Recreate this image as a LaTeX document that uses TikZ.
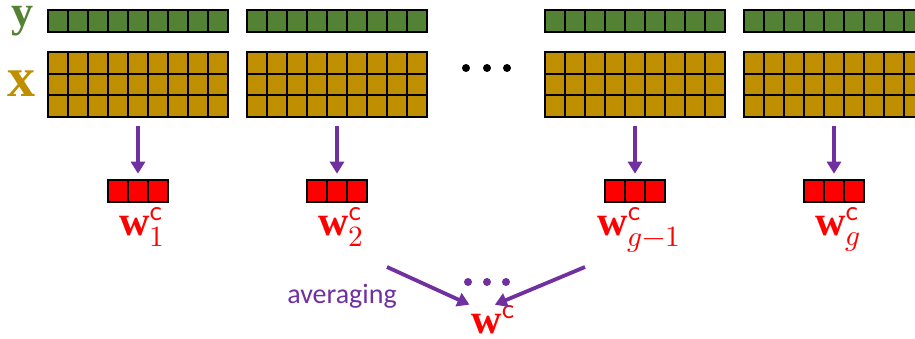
\documentclass[tikz,border=0pt]{standalone}
\usepackage{fontspec}
\usepackage{unicode-math}
\newfontfamily\rowfont{Liberation Serif}
\newfontfamily\notefont{Carlito}
\usetikzlibrary{arrows.meta,positioning}

\definecolor{ygreen}{RGB}{84,130,53}
\definecolor{xgold}{RGB}{191,143,0}
\definecolor{wred}{RGB}{255,0,0}
\definecolor{avgpurple}{RGB}{112,48,160}

\newcommand\wvec{\mbox{\rowfont\bfseries w}}

\tikzset{
	cellline/.style={line width=2.2pt},
	yrow/.style={draw, fill=ygreen, line width=2.6pt, minimum width=180pt, minimum height=22pt, inner sep=0pt},
	xblock/.style={yrow, fill=xgold, minimum height=65pt},
	wbox/.style={yrow, fill=wred, minimum width=60pt},
	wlabel/.style={text=wred, font=\fontsize{42}{46}\selectfont, inner sep=0pt},
	down/.style={avgpurple, line width=3.8pt, -{Triangle[length=12pt,width=14pt]}, shorten <=8pt, shorten >=5pt},
	avg/.style={avgpurple, line width=3.8pt, -{Triangle[length=12pt,width=14pt]}, shorten >=2pt},
}

\begin{document}
\begin{tikzpicture}[x=1pt,y=-1pt]
	\useasboundingbox (0,0) rectangle (915,339);
	\clip (0,0) rectangle (915,339);
	% row names
		\node[inner sep=0pt, text=ygreen, font=\rowfont\bfseries\fontsize{44}{44}\selectfont] (ylab) at (22,21) {y};
		\node[inner sep=0pt, text=xgold, font=\rowfont\bfseries\fontsize{56}{56}\selectfont] (xlab) at (21,84) {x};
	% one group per block of data
	\foreach \g/\cx/\wsub in {1/138/1, 2/337/2, 3/635/g-1, 4/834/g}{
		\node[yrow] (Y\g) at (\cx,21) {};
		\node[xblock] (X\g) at (\cx,84.5) {};
		\foreach \i in {1,...,8}{
			\draw[cellline] (\cx-90+20*\i,10) -- ++(0,22);
			\draw[cellline] (\cx-90+20*\i,52) -- ++(0,65);
		}
		\draw[cellline] (\cx-90,73.7) -- ++(180,0) (\cx-90,95.3) -- ++(180,0);
		% local weights
		\node[wbox] (B\g) at (\cx,191) {};
		\draw[cellline] (\cx-10,180) -- ++(0,22) (\cx+10,180) -- ++(0,22);
		\draw[down] (X\g) -- (B\g);
		\node[wlabel, anchor=north] (L\g) at (\cx+4,207) {$\wvec_{\wsub}^{\mathsf{c}}$};
	}
	% dots between the groups
		\foreach \dx in {466,487,507} \fill (\dx,68) circle (4pt);
	% averaging
		\node[wlabel] (wc) at (493,320) {$\wvec^{\mathsf{c}}$};
		\coordinate (fromL) at (387,267);
		\coordinate (fromR) at (585,267);
		\draw[avg] (fromL) -- (wc.north west);
		\draw[avg] (fromR) -- (wc.north);
		\foreach \dx in {468,487,506} \fill[avgpurple] (\dx,282) circle (4pt);
		\node[text=avgpurple, font=\notefont\fontsize{28}{28}\selectfont] (avgtxt) at (342,296) {averaging};
\end{tikzpicture}
\end{document}
